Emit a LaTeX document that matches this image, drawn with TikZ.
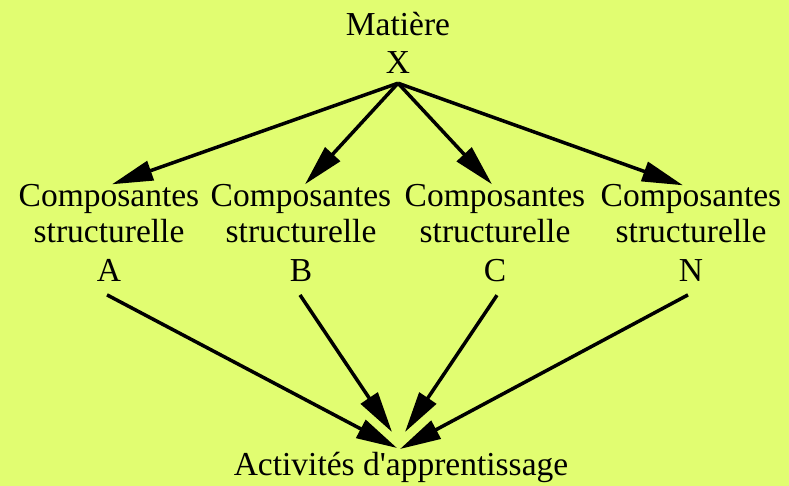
\documentclass[tikz,border=0pt]{standalone}
\usepackage{fontspec}
\setmainfont{Liberation Serif}[Ligatures=TeXOff]
\usetikzlibrary{arrows.meta,calc}
\definecolor{bgc}{RGB}{225,253,113}
\tikzset{
  lbl/.style={align=center,inner sep=0pt,anchor=north,font=\fontsize{33.5}{36}\selectfont},
  arr/.style={line width=3.5pt,-{Triangle[length=41pt,width=20pt]}}
}
\begin{document}
\begin{tikzpicture}[x=1pt,y=-1pt]
\useasboundingbox[fill=bgc] (0,0) rectangle (789,486);
\node[lbl] (top) at (398,12.5) {Matière\\[2pt]X};
\node[lbl] (ca) at (109,184.3) {Composantes\\structurelle\\[3pt]A};
\node[lbl] (cb) at (301,184.3) {Composantes\\structurelle\\[3pt]B};
\node[lbl] (cc) at (495,184.3) {Composantes\\structurelle\\[3pt]C};
\node[lbl] (cn) at (691,184.3) {Composantes\\structurelle\\[3pt]N};
\node[lbl] (act) at (401,452) {Activités d'apprentissage};
\draw[arr] ($(top.south)+(0,9)$) -- ($(ca.north)+(3,0)$);
\draw[arr] ($(top.south)+(0,9)$) -- ($(cb.north)+(4,0)$);
\draw[arr] ($(top.south)+(0,9)$) -- ($(cc.north)+(-3,0)$);
\draw[arr] ($(top.south)+(0,9)$) -- ($(cn.north)+(-8,1)$);
\draw[arr] ($(ca.south)+(-2,13)$) -- ($(act.north)+(-4,-4)$);
\draw[arr] ($(cb.south)+(-1,13)$) -- ($(act.north)+(-9,-20)$);
\draw[arr] ($(cc.south)+(2,13)$) -- ($(act.north)+(4,-20)$);
\draw[arr] ($(cn.south)+(-3,13)$) -- ($(act.north)+(-1,-3)$);
\end{tikzpicture}
\end{document}
